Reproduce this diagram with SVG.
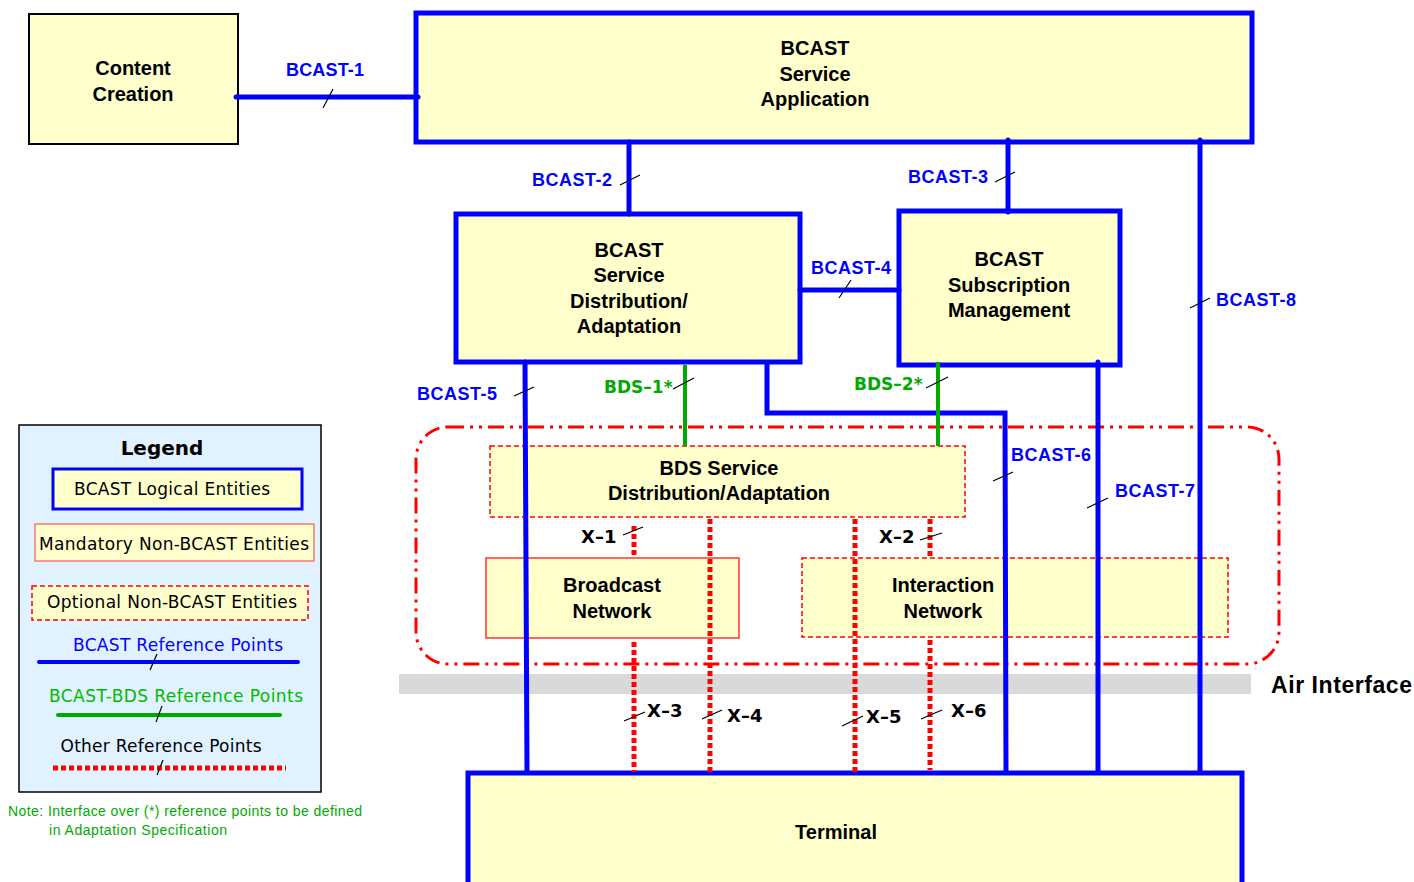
<svg xmlns="http://www.w3.org/2000/svg" width="1414" height="882" viewBox="0 0 1414 882">
<style>
.bl{fill:#FFFFCC;stroke:#0000FF;stroke-width:5}
.nt{font-family:"Liberation Sans",Arial,sans-serif;font-weight:bold;font-size:20px;fill:#000;text-anchor:middle}
.lb{font-family:"Liberation Sans",Arial,sans-serif;font-weight:bold;font-size:18px;fill:#0000FF}
.gl{font-family:"DejaVu Sans",sans-serif;font-weight:bold;font-size:17px;fill:#00AA00}
.xl{font-family:"DejaVu Sans",sans-serif;font-weight:bold;font-size:18px;fill:#000}
.bw{stroke:#0000FF;stroke-width:5;fill:none;stroke-linecap:round}
.gw{stroke:#00AA00;stroke-width:4;fill:none}
.rw{stroke:#FF0000;stroke-width:5;fill:none;stroke-dasharray:5 3}
.tk{stroke:#000;stroke-width:1.2}
.lg{font-family:"DejaVu Sans",sans-serif;font-size:17px;text-anchor:middle}
</style>
<rect x="399" y="674" width="852" height="20" fill="#D9D9D9"/>
<text x="1271" y="693" font-family="Liberation Sans,Arial,sans-serif" font-weight="bold" font-size="23" fill="#000" textLength="141">Air Interface</text>
<rect x="416" y="427" width="863" height="237" rx="32" fill="none" stroke="#FF0000" stroke-width="3" stroke-dasharray="16 6 3 6 3 6"/>
<g id="content-creation"><rect x="29" y="14" width="209" height="130" fill="#FFFFCC" stroke="#000" stroke-width="2"/><text class="nt" x="133" y="75">Content</text><text class="nt" x="133" y="101">Creation</text></g>
<g id="service-application"><rect class="bl" x="416" y="13" width="836" height="129"/><text class="nt" x="815" y="55">BCAST</text><text class="nt" x="815" y="81">Service</text><text class="nt" x="815" y="106">Application</text></g>
<g id="service-distribution"><rect class="bl" x="456" y="214" width="344" height="148"/><text class="nt" x="629" y="257">BCAST</text><text class="nt" x="629" y="282">Service</text><text class="nt" x="629" y="308">Distribution/</text><text class="nt" x="629" y="333">Adaptation</text></g>
<g id="subscription-management"><rect class="bl" x="899" y="211" width="221" height="154"/><text class="nt" x="1009" y="266">BCAST</text><text class="nt" x="1009" y="292">Subscription</text><text class="nt" x="1009" y="317">Management</text></g>
<g id="bds-distribution"><rect x="490" y="446" width="475" height="71" fill="#FFFFCC" stroke="#FF0000" stroke-width="1.5" stroke-dasharray="5 3"/><text class="nt" x="719" y="475">BDS Service</text><text class="nt" x="719" y="500">Distribution/Adaptation</text></g>
<g id="broadcast-network"><rect x="486" y="558" width="253" height="80" fill="#FFFFCC" stroke="#FF3333" stroke-width="1.5"/><text class="nt" x="612" y="592">Broadcast</text><text class="nt" x="612" y="618">Network</text></g>
<g id="interaction-network"><rect x="802" y="558" width="426" height="79" fill="#FFFFCC" stroke="#FF0000" stroke-width="1.5" stroke-dasharray="5 3"/><text class="nt" x="943" y="592">Interaction</text><text class="nt" x="943" y="618">Network</text></g>
<g id="terminal"><rect class="bl" x="468" y="773" width="774" height="120"/><text class="nt" x="836" y="839">Terminal</text></g>
<g id="connectors">
<line class="bw" x1="236" y1="97" x2="418" y2="97"/>
<line class="bw" x1="629" y1="142" x2="629" y2="214"/>
<line class="bw" x1="1008" y1="140" x2="1008" y2="212"/>
<line class="bw" x1="800" y1="290" x2="899" y2="290"/>
<line class="bw" x1="1200" y1="140" x2="1200" y2="772"/>
<line class="bw" x1="525" y1="362" x2="527" y2="772"/>
<polyline class="bw" points="767,365 767,413 1005,413 1006,772"/>
<line class="bw" x1="1098" y1="362" x2="1098" y2="772"/>
<line class="gw" x1="685" y1="365" x2="685" y2="446"/>
<line class="gw" x1="938" y1="362" x2="938" y2="446"/>
<line class="rw" x1="634" y1="526" x2="634" y2="558"/>
<line class="rw" x1="634" y1="642" x2="634" y2="772"/>
<line class="rw" x1="710" y1="519" x2="710" y2="772"/>
<line class="rw" x1="855" y1="519" x2="855" y2="772"/>
<line class="rw" x1="930" y1="519" x2="930" y2="558"/>
<line class="rw" x1="930" y1="640" x2="930" y2="770"/>
<line class="tk" x1="323" y1="108" x2="333" y2="89"/>
<line class="tk" x1="620" y1="185" x2="640" y2="175"/>
<line class="tk" x1="995" y1="182" x2="1015" y2="172"/>
<line class="tk" x1="839" y1="298" x2="851" y2="280"/>
<line class="tk" x1="1190" y1="308" x2="1210" y2="298"/>
<line class="tk" x1="514" y1="396" x2="534" y2="387"/>
<line class="tk" x1="673" y1="389" x2="694" y2="378"/>
<line class="tk" x1="926" y1="388" x2="948" y2="377"/>
<line class="tk" x1="993" y1="481" x2="1013" y2="472"/>
<line class="tk" x1="1087" y1="508" x2="1108" y2="498"/>
<line class="tk" x1="623" y1="535" x2="643" y2="527"/>
<line class="tk" x1="920" y1="540" x2="942" y2="533"/>
<line class="tk" x1="624" y1="721" x2="645" y2="712"/>
<line class="tk" x1="702" y1="719" x2="722" y2="710"/>
<line class="tk" x1="842" y1="726" x2="863" y2="716"/>
<line class="tk" x1="921" y1="719" x2="942" y2="710"/>
<text class="lb" x="286" y="76" textLength="78">BCAST-1</text>
<text class="lb" x="532" y="186" textLength="80">BCAST-2</text>
<text class="lb" x="908" y="183" textLength="80">BCAST-3</text>
<text class="lb" x="811" y="274" textLength="80">BCAST-4</text>
<text class="lb" x="417" y="400" textLength="80">BCAST-5</text>
<text class="lb" x="1011" y="461" textLength="80">BCAST-6</text>
<text class="lb" x="1115" y="497" textLength="80">BCAST-7</text>
<text class="lb" x="1216" y="306" textLength="80">BCAST-8</text>
<text class="gl" x="604" y="393">BDS–1*</text>
<text class="gl" x="854" y="390">BDS–2*</text>
<text class="xl" x="581" y="543">X–1</text>
<text class="xl" x="879" y="543">X–2</text>
<text class="xl" x="647" y="717">X–3</text>
<text class="xl" x="727" y="722">X–4</text>
<text class="xl" x="866" y="723">X–5</text>
<text class="xl" x="951" y="717">X–6</text>
</g>
<g id="legend">
<rect x="19" y="425" width="302" height="367" fill="#E0F2FF" stroke="#000" stroke-width="1.5"/>
<text x="162" y="455" font-family="DejaVu Sans,sans-serif" font-weight="bold" font-size="20" text-anchor="middle">Legend</text>
<rect x="53" y="469" width="249" height="40" fill="#FFFFCC" stroke="#0000FF" stroke-width="3"/>
<text class="lg" x="172" y="495" textLength="196">BCAST Logical Entities</text>
<rect x="35" y="524" width="279" height="37" fill="#FFFFCC" stroke="#FF5555" stroke-width="1.2"/>
<text class="lg" x="174" y="550" textLength="270">Mandatory Non-BCAST Entities</text>
<rect x="32" y="586" width="276" height="34" fill="#FFFFCC" stroke="#FF0000" stroke-width="1.5" stroke-dasharray="5 3"/>
<text class="lg" x="172" y="608" textLength="250">Optional Non-BCAST Entities</text>
<text class="lg" x="178" y="651" fill="#0000FF" textLength="210">BCAST Reference Points</text>
<line x1="39" y1="662" x2="298" y2="662" stroke="#0000FF" stroke-width="4" stroke-linecap="round"/>
<line class="tk" x1="150" y1="670" x2="157" y2="654"/>
<text class="lg" x="176" y="702" fill="#00BB00" textLength="254">BCAST-BDS Reference Points</text>
<line x1="58" y1="715" x2="280" y2="715" stroke="#00AA00" stroke-width="4" stroke-linecap="round"/>
<line class="tk" x1="156" y1="722" x2="162" y2="706"/>
<text class="lg" x="161" y="752" textLength="201">Other Reference Points</text>
<line x1="53" y1="768" x2="286" y2="768" stroke="#FF0000" stroke-width="5" stroke-dasharray="5 3"/>
<line class="tk" x1="157" y1="775" x2="163" y2="760"/>
</g>
<g id="note" font-family="Liberation Sans,Arial,sans-serif" font-size="14" fill="#00AA00">
<text x="8" y="816" textLength="354">Note: Interface over (*) reference points to be defined</text>
<text x="49" y="835" textLength="178">in Adaptation Specification</text>
</g>
</svg>
